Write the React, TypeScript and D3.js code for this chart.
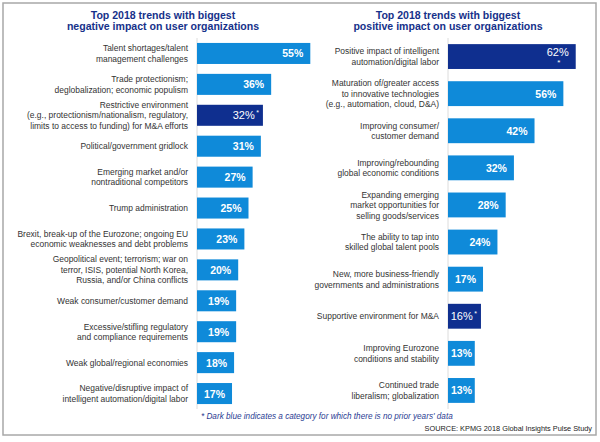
import React from "react";
import * as d3 from "d3";

// ---------- DATA ----------
const negTitle = ["Top 2018 trends with biggest", "negative impact on user organizations"];
const posTitle = ["Top 2018 trends with biggest", "positive impact on user organizations"];

const negLabels: string[][] = [
  ["Talent shortages/talent", "management challenges"],
  ["Trade protectionism;", "deglobalization; economic populism"],
  ["Restrictive environment", "(e.g., protectionism/nationalism, regulatory,", "limits to access to funding) for M&A efforts"],
  ["Political/government gridlock"],
  ["Emerging market and/or", "nontraditional competitors"],
  ["Trump administration"],
  ["Brexit, break-up of the Eurozone; ongoing EU", "economic weaknesses and debt problems"],
  ["Geopolitical event; terrorism; war on", "terror, ISIS, potential North Korea,", "Russia, and/or China conflicts"],
  ["Weak consumer/customer demand"],
  ["Excessive/stifling regulatory", "and compliance requirements"],
  ["Weak global/regional economies"],
  ["Negative/disruptive impact of", "intelligent automation/digital labor"],
];
const negValues = [55, 36, 32, 31, 27, 25, 23, 20, 19, 19, 18, 17];
const negNoPrior = [false, false, true, false, false, false, false, false, false, false, false, false];

const posLabels: string[][] = [
  ["Positive impact of intelligent", "automation/digital labor"],
  ["Maturation of/greater access", "to innovative technologies", "(e.g., automation, cloud, D&A)"],
  ["Improving consumer/", "customer demand"],
  ["Improving/rebounding", "global economic conditions"],
  ["Expanding emerging", "market opportunities for", "selling goods/services"],
  ["The ability to tap into", "skilled global talent pools"],
  ["New, more business-friendly", "governments and administrations"],
  ["Supportive environment for M&A"],
  ["Improving Eurozone", "conditions and stability"],
  ["Continued trade", "liberalism; globalization"],
];
const posValues = [62, 56, 42, 32, 28, 24, 17, 16, 13, 13];
const posNoPrior = [true, false, false, false, false, false, false, true, false, false];

const footnote = "* Dark blue indicates a category for which there is no prior years' data";
const source = "SOURCE: KPMG 2018 Global Insights Pulse Study";

// ---------- STYLE ----------
const W = 600;
const H = 442;
const LIGHT = "#0f8ad9";
const DARK = "#0f2f8f";
const NAVY = "#16318a";
const FONT = "'Liberation Sans', Arial, Helvetica, sans-serif";
const SQUISH = 0.92;

const x = d3.scaleLinear().domain([0, 100]).range([0, 206]);

type PanelProps = {
  labels: string[][];
  values: number[];
  noPrior: boolean[];
  title: string[];
  axisX: number;
  titleX: number;
  asteriskBelowFirst?: boolean;
};

function Panel({ labels, values, noPrior, title, axisX, titleX, asteriskBelowFirst }: PanelProps) {
  const n = values.length;
  const pad = n > 10 ? 0.32 : 0.33;
  const y = d3
    .scaleBand<number>()
    .domain(d3.range(n))
    .range([38, 409])
    .paddingInner(pad)
    .paddingOuter(pad / 2);
  const bw = y.bandwidth();
  const lh = 10.5;
  return (
    <g>
      {title.map((t, i) => (
        <text
          key={i}
          transform={`translate(${titleX},${18.5 + i * 11.5}) scale(0.96,1)`}
          textAnchor="middle"
          fontFamily={FONT}
          fontWeight="bold"
          fontSize={11}
          fill={NAVY}
        >
          {t}
        </text>
      ))}
      <line x1={axisX} x2={axisX} y1={38} y2={409} stroke="#dcdcdc" strokeWidth={1} />
      {values.map((v, i) => {
        const cy = (y(i) as number) + bw / 2;
        const barEnd = axisX + x(v);
        const lines = labels[i];
        const dark = noPrior[i];
        const below = dark && asteriskBelowFirst && i === 0;
        const textEnd = Math.max(barEnd - (dark && !below ? 4 : 7), axisX + 24);
        return (
          <g key={i}>
            <rect x={axisX} y={y(i)} width={x(v)} height={bw} fill={dark ? DARK : LIGHT} />
            {lines.map((l, j) => (
              <text
                key={j}
                transform={`translate(${axisX - 9},${cy + (j - (lines.length - 1) / 2) * lh}) scale(${SQUISH},1)`}
                dominantBaseline="central"
                textAnchor="end"
                fontFamily={FONT}
                fontSize={9.2}
                fill="#333"
              >
                {l}
              </text>
            ))}
            {below ? (
              <g>
                <text
                  x={barEnd - 7}
                  y={cy - 4.5}
                  dominantBaseline="central"
                  textAnchor="end"
                  fontFamily={FONT}
                  fontSize={11}
                  fill="#fff"
                >
                  {v + "%"}
                </text>
                <text
                  x={barEnd - 17}
                  y={cy + 8}
                  textAnchor="middle"
                  fontFamily={FONT}
                  fontSize={8}
                  fill="#fff"
                >
                  *
                </text>
              </g>
            ) : (
              <text
                x={textEnd}
                y={cy}
                dominantBaseline="central"
                textAnchor="end"
                fontFamily={FONT}
                fontWeight={dark ? "normal" : "bold"}
                fontSize={dark ? 11 : 10.5}
                fill="#fff"
              >
                {v + "%"}
                {dark ? (
                  <tspan fontSize={7} dx={1.5} dy={-3}>
                    *
                  </tspan>
                ) : null}
              </text>
            )}
          </g>
        );
      })}
    </g>
  );
}

export default function App() {
  return (
    <svg
      width={W}
      height={H}
      viewBox={`0 0 ${W} ${H}`}
      style={{ position: "absolute", left: 0, top: 0, background: "#fff" }}
    >
      <rect x={0} y={0} width={W} height={H} fill="#fff" />
      <rect x={3} y={3} width={593} height={432} fill="none" stroke="#a8a8a8" strokeWidth={1.5} />
      <Panel
        labels={negLabels}
        values={negValues}
        noPrior={negNoPrior}
        title={negTitle}
        axisX={197}
        titleX={163}
      />
      <Panel
        labels={posLabels}
        values={posValues}
        noPrior={posNoPrior}
        title={posTitle}
        axisX={448}
        titleX={448}
        asteriskBelowFirst
      />
      <text
        transform={`translate(201,419) scale(${SQUISH},1)`}
        fontFamily={FONT}
        fontStyle="italic"
        fontSize={8.9}
        fill="#2a3c92"
      >
        {footnote}
      </text>
      <text
        transform={`translate(592,431) scale(${SQUISH},1)`}
        textAnchor="end"
        fontFamily={FONT}
        fontSize={8}
        fill="#222"
      >
        {source}
      </text>
    </svg>
  );
}
